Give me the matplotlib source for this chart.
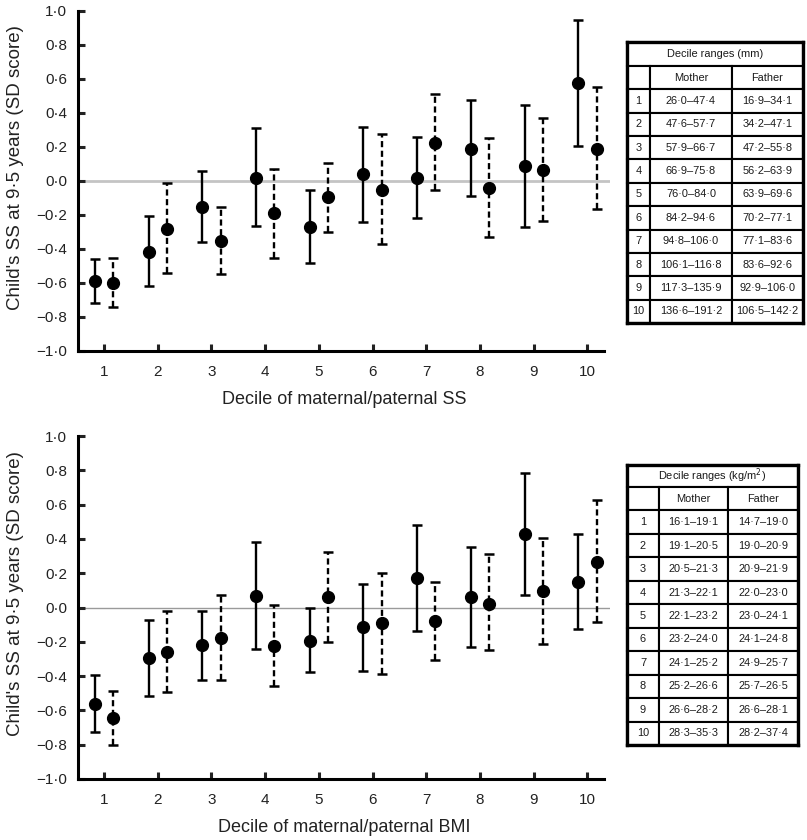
import matplotlib
matplotlib.use("Agg")
import matplotlib.pyplot as plt
import numpy as np

plt.rcParams['font.family'] = ['Liberation Sans', 'DejaVu Sans']

deciles = np.arange(1, 11)
tick_labels_y = ["1·0", "0·8", "0·6", "0·4", "0·2", "0·0", "−0·2", "−0·4", "−0·6", "−0·8", "−1·0"]
tick_values_y = [1.0, 0.8, 0.6, 0.4, 0.2, 0.0, -0.2, -0.4, -0.6, -0.8, -1.0]

# skinfold (SS) deciles
ss_m_mean = [-0.59, -0.415, -0.153, 0.016, -0.27, 0.04, 0.016, 0.19, 0.088, 0.578]
ss_m_lo = [-0.72, -0.615, -0.36, -0.265, -0.48, -0.24, -0.22, -0.088, -0.27, 0.206]
ss_m_hi = [-0.46, -0.205, 0.06, 0.31, -0.055, 0.32, 0.26, 0.475, 0.445, 0.947]
ss_f_mean = [-0.60, -0.28, -0.35, -0.19, -0.096, -0.05, 0.225, -0.04, 0.065, 0.19]
ss_f_lo = [-0.74, -0.54, -0.547, -0.45, -0.30, -0.37, -0.053, -0.33, -0.233, -0.167]
ss_f_hi = [-0.45, -0.01, -0.155, 0.07, 0.104, 0.275, 0.51, 0.255, 0.37, 0.55]

# BMI deciles
bmi_m_mean = [-0.565, -0.297, -0.22, 0.068, -0.194, -0.116, 0.171, 0.062, 0.429, 0.151]
bmi_m_lo = [-0.727, -0.518, -0.423, -0.242, -0.378, -0.369, -0.136, -0.229, 0.072, -0.128]
bmi_m_hi = [-0.394, -0.07, -0.019, 0.382, 0.0, 0.136, 0.483, 0.353, 0.786, 0.43]
bmi_f_mean = [-0.646, -0.258, -0.175, -0.223, 0.062, -0.091, -0.08, 0.023, 0.097, 0.268]
bmi_f_lo = [-0.80, -0.49, -0.423, -0.46, -0.2, -0.386, -0.305, -0.246, -0.215, -0.087]
bmi_f_hi = [-0.485, -0.019, 0.072, 0.017, 0.324, 0.202, 0.147, 0.31, 0.407, 0.625]

ss_mother_rng = ["26·0–47·4", "47·6–57·7", "57·9–66·7", "66·9–75·8", "76·0–84·0",
                 "84·2–94·6", "94·8–106·0", "106·1–116·8", "117·3–135·9", "136·6–191·2"]
ss_father_rng = ["16·9–34·1", "34·2–47·1", "47·2–55·8", "56·2–63·9", "63·9–69·6",
                 "70·2–77·1", "77·1–83·6", "83·6–92·6", "92·9–106·0", "106·5–142·2"]
bmi_mother_rng = ["16·1–19·1", "19·1–20·5", "20·5–21·3", "21·3–22·1", "22·1–23·2",
                  "23·2–24·0", "24·1–25·2", "25·2–26·6", "26·6–28·2", "28·3–35·3"]
bmi_father_rng = ["14·7–19·0", "19·0–20·9", "20·9–21·9", "22·0–23·0", "23·0–24·1",
                  "24·1–24·8", "24·9–25·7", "25·7–26·5", "26·6–28·1", "28·2–37·4"]

W, H = 807, 840
fig = plt.figure(figsize=(W / 100, H / 100), dpi=100)


def px(x0, y0, x1, y1):
    return [x0 / W, 1 - y1 / H, (x1 - x0) / W, (y1 - y0) / H]


def panel(rect, m_mean, m_lo, m_hi, f_mean, f_lo, f_hi, xlabel, zero_col, zero_lw):
    ax = fig.add_axes(rect)
    off = 0.17
    ax.axhline(0, color=zero_col, lw=zero_lw, zorder=1)
    for xs, mean, lo, hi, dashed in [(deciles - off, m_mean, m_lo, m_hi, False),
                                     (deciles + off, f_mean, f_lo, f_hi, True)]:
        mean = np.array(mean)
        err = [mean - np.array(lo), np.array(hi) - mean]
        eb = ax.errorbar(xs, mean, yerr=err, fmt='o', color='black', ms=8.5,
                         elinewidth=1.7, capsize=3.6, capthick=1.8, zorder=3)
        for c in eb[1]:
            c.set_clip_on(False)
        if dashed:
            eb[2][0].set_linestyle((0, (2.6, 1.5)))
    ax.set_xlim(0.517, 10.42)
    ax.set_ylim(-1.0, 1.0)
    ax.spines['top'].set_visible(False)
    ax.spines['right'].set_visible(False)
    ax.spines['left'].set_linewidth(2.2)
    ax.spines['bottom'].set_linewidth(2.2)
    ax.spines['bottom'].set_bounds(0.517, 10.3)
    ax.set_xticks(deciles)
    ax.set_xticklabels([str(d) for d in deciles])
    ax.set_yticks(tick_values_y)
    ax.set_yticklabels(tick_labels_y)
    ax.tick_params(direction='in', length=5, width=2.2, labelsize=11, colors='#222222')
    ax.tick_params(axis='x', pad=10)
    ax.tick_params(axis='y', pad=8)
    ax.set_xlabel(xlabel, fontsize=13, labelpad=9, color='#222222')
    ax.set_ylabel("Child's SS at 9·5 years (SD score)", fontsize=13.5, color='#222222')
    ax.yaxis.set_label_coords(-0.102, 0.54)
    return ax


def range_table(rect, title, mother, father, widths, title_frac):
    ax = fig.add_axes(rect)
    ax.set_xticks([])
    ax.set_yticks([])
    for s in ax.spines.values():
        s.set_linewidth(2.4)
    t1 = ax.table(cellText=[[title]], cellLoc='center',
                  bbox=[0, 1 - title_frac, 1, title_frac])
    rows = [[str(d), m, f] for d, m, f in zip(deciles, mother, father)]
    t2 = ax.table(cellText=rows, colLabels=['', 'Mother', 'Father'], cellLoc='center',
                  colWidths=widths, bbox=[0, 0, 1, 1 - title_frac])
    for t in (t1, t2):
        t.auto_set_font_size(False)
        t.set_fontsize(7.9)
        for cell in t.get_celld().values():
            cell.set_linewidth(1.5)
            cell.get_text().set_color('#1a1a1a')
    return ax


panel(px(78, 11, 610, 351), ss_m_mean, ss_m_lo, ss_m_hi, ss_f_mean, ss_f_lo, ss_f_hi,
      "Decile of maternal/paternal SS", '#c4c4c4', 2.0)
panel(px(78, 436, 610, 779), bmi_m_mean, bmi_m_lo, bmi_m_hi, bmi_f_mean, bmi_f_lo, bmi_f_hi,
      "Decile of maternal/paternal BMI", '#9a9a9a', 1.0)

range_table(px(627, 42, 803, 323), "Decile ranges (mm)", ss_mother_rng, ss_father_rng,
            [23 / 176, 82 / 176, 71 / 176], 24 / 281)
range_table(px(627, 465, 798, 745), "Decile ranges (kg/m$^2$)", bmi_mother_rng, bmi_father_rng,
            [32 / 171, 69 / 171, 70 / 171], 22 / 280)

fig.savefig("out.png", dpi=100)
